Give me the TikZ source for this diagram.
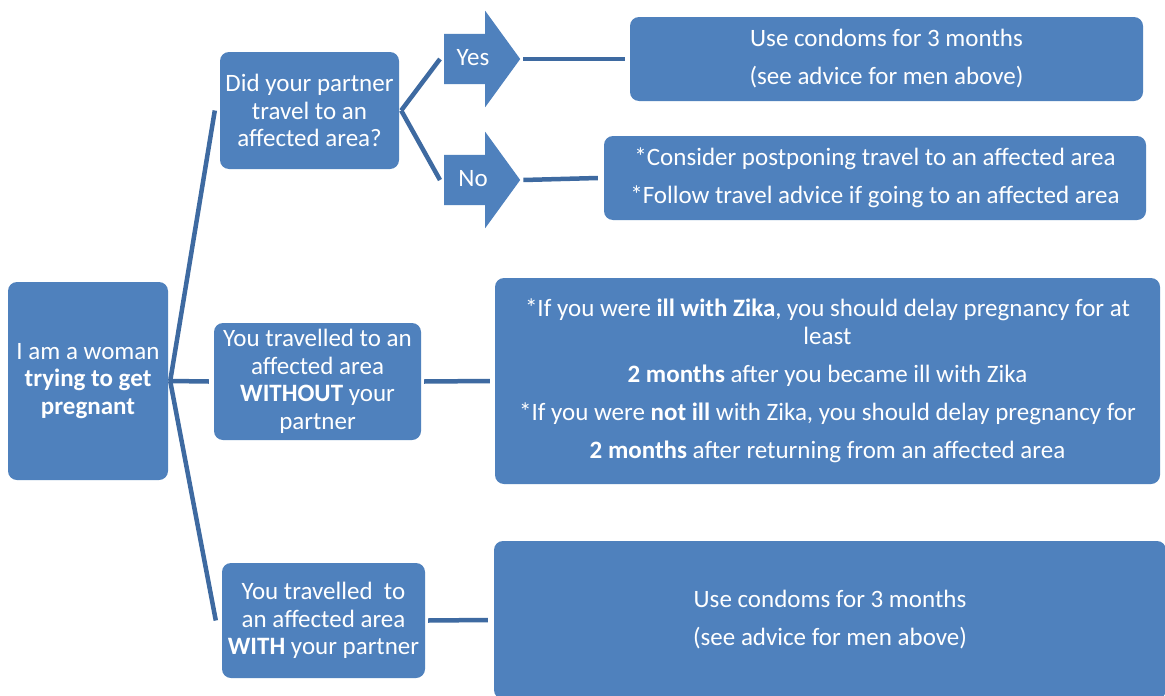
\documentclass[tikz,border=0pt]{standalone}
\usepackage{fontspec}
\setmainfont{Carlito}
\usetikzlibrary{shapes.arrows}
\definecolor{boxblue}{RGB}{79,129,189}
\definecolor{lineblue}{RGB}{62,106,161}
\tikzset{
  box/.style={fill=boxblue,rounded corners=9,text=white,align=center,inner sep=0,font=\fontsize{25}{27.5}\selectfont},
  answer/.style={shape=single arrow,fill=boxblue,text=white,font=\fontsize{25}{27.5}\selectfont,single arrow head extend=23,single arrow tip angle=108,minimum height=76,text height=18,text depth=6,inner xsep=10,inner ysep=13},
  link/.style={draw=lineblue,line width=4.5}
}
\begin{document}
\begin{tikzpicture}[x=1pt,y=-1pt]
    \path[use as bounding box,fill=white] (0,0) rectangle (1165,696);
    \node[box,minimum width=160,minimum height=198] (woman) at (88,381) {I am a woman\\\textbf{trying to get}\\\textbf{pregnant}};
    \node[box,minimum width=179,minimum height=117] (partner) at (309.5,110.5) {Did your partner\\travel to an\\affected area?};
    \node[box,minimum width=207,minimum height=117] (without) at (317.5,381.5) {You travelled to an\\affected area\\\textbf{WITHOUT} your\\partner};
    \node[box,minimum width=203,minimum height=115] (with) at (323.5,620.5) {You travelled\ \ to\\an affected area\\\textbf{WITH} your partner};
    \node[answer,anchor=tail] (yes) at (444,59) {Yes};
    \node[answer,anchor=tail] (no) at (444,180) {No};
    \node[box,minimum width=513,minimum height=84] (condoms) at (886.5,59) {Use condoms for 3 months\\[10.5pt](see advice for men above)};
    \node[box,minimum width=542,minimum height=84] (postpone) at (875,178) {*Consider postponing travel to an affected area\\[10.5pt]*Follow travel advice if going to an affected area};
    \node[box,minimum width=665,minimum height=206] (delay) at (827.5,381) {*If you were \textbf{ill with Zika}, you should delay pregnancy for at\\least\\[10.5pt]\textbf{2 months} after you became ill with Zika\\[10.5pt]*If you were \textbf{not ill} with Zika, you should delay pregnancy for\\[10.5pt]\textbf{2 months} after returning from an affected area};
    \node[box,minimum width=672,minimum height=158] (condoms2) at (830,620) {Use condoms for 3 months\\[10.5pt](see advice for men above)};
    \draw[link] ([xshift=2]woman.east) -- ([xshift=-5]partner.west);
    \draw[link] ([xshift=2]woman.east) -- ([xshift=-5]without.west);
    \draw[link] ([xshift=2]woman.east) -- ([xshift=-6]with.west);
    \draw[link] ([xshift=2]partner.east) -- ([xshift=-4]yes.tail);
    \draw[link] ([xshift=2]partner.east) -- ([xshift=-4]no.tail);
    \draw[link] ([xshift=3]yes.tip) -- ([xshift=-5]condoms.west);
    \draw[link] ([xshift=3]no.tip) -- ([xshift=-6]postpone.west);
    \draw[link] ([xshift=3]without.east) -- ([xshift=-5]delay.west);
    \draw[link] ([xshift=3]with.east) -- ([xshift=-6]condoms2.west);
\end{tikzpicture}
\end{document}
